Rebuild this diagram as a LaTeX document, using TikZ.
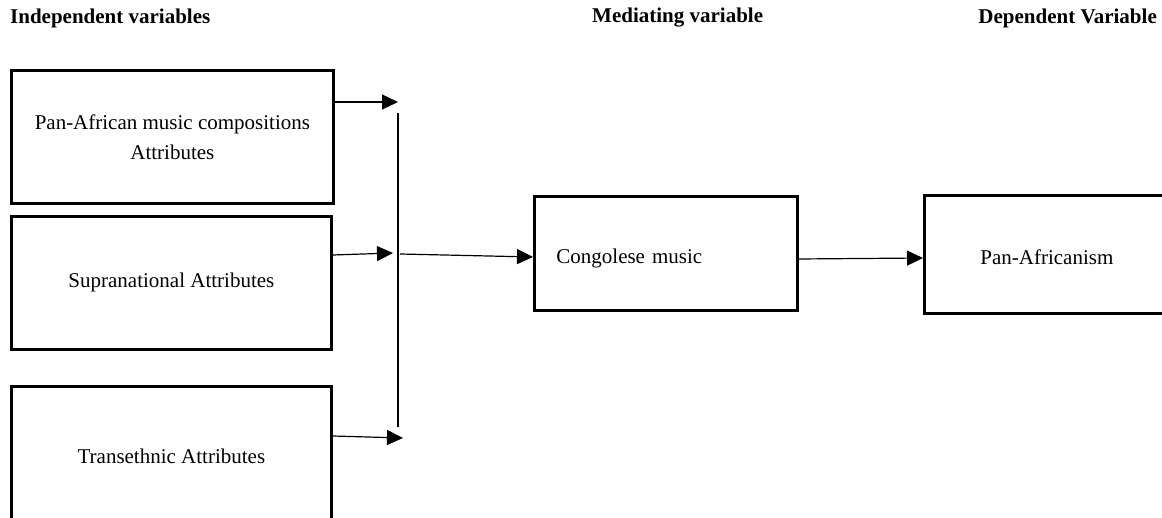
\documentclass[tikz,border=0pt]{standalone}
\usepackage{fontspec}
\setmainfont{Liberation Serif}
\usetikzlibrary{arrows.meta}
\begin{document}
\begin{tikzpicture}[x=1pt,y=-1pt,
  box/.style={draw=black, line width=2.8pt, rectangle, inner sep=0pt, anchor=north west, font=\fontsize{21}{30}\selectfont, align=center},
  head/.style={font=\fontsize{21}{25}\selectfont\bfseries, inner sep=0pt},
  conn/.style={line width=1.2pt, -{Triangle[length=16pt,width=15pt]}},
  plain/.style={line width=1.2pt}]
\useasboundingbox (0,0) rectangle (1162,518);
\node[head, anchor=west] (h1) at (10,18) {Independent variables};
\node[head, anchor=west] (h2) at (592,18) {Mediating variable};
\node[head, anchor=east] (h3) at (1157,18) {Dependent Variable};
\node[box, minimum width=322, minimum height=133] (b1) at (10,69) {Pan-African music compositions\\Attributes};
\node[box, minimum width=320, minimum height=133] (b2) at (10,215) {Supranational Attributes};
\node[box, minimum width=320, minimum height=133] (b3) at (10,385) {\rule{0pt}{22pt}Transethnic Attributes};
\node[box, minimum height=114, text width=219, inner xsep=22pt, align=left] (cm) at (533,195) {\rule{0pt}{25pt}Congolese music};
\node[box, minimum width=245, minimum height=118] (pa) at (923,194) {\rule{0pt}{20pt}Pan-Africanism};
\coordinate (vtop) at (398,113);
\coordinate (vbot) at (398,427);
\coordinate (t1) at (398,102);
\coordinate (t2) at (393,253);
\coordinate (t3) at (403,438);
\coordinate (s4) at (400,254);
\draw[plain] (vtop) -- (vbot);
\draw[conn] (b1.east |- t1) -- (t1);
\draw[conn] ([yshift=-2pt]b2.east |- t2) -- (t2);
\draw[conn] ([yshift=2pt]b3.east |- t3) -- (t3);
\draw[conn] (s4) -- (cm.west |- 0,257);
\draw[conn] (cm.east |- 0,259) -- (pa.west |- 0,258);
\end{tikzpicture}
\end{document}
